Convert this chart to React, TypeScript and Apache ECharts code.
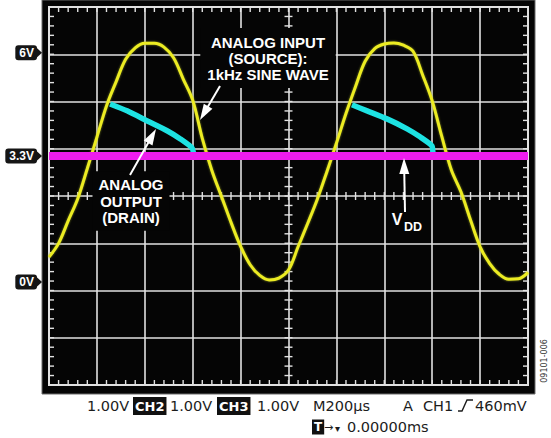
import React, { useEffect, useRef } from "react";
import * as echarts from "echarts";

// Time base: M200µs -> 10 divisions = 2000 µs
const timeUs = [
  0, 40, 80, 120, 160, 200, 240, 280, 320, 360, 400, 440, 480, 520, 560, 600, 640, 680, 720, 760,
  800, 840, 880, 920, 960, 1000, 1040, 1080, 1120, 1160, 1200, 1240, 1280, 1320, 1360, 1400, 1440,
  1480, 1520, 1560, 1600, 1640, 1680, 1720, 1760, 1800, 1840, 1880, 1920, 1960, 2000,
];
// Analog input (source): 1 kHz sine wave, volts
const inputVolts = [
  0.65, 1.01, 1.6, 2.18, 2.97, 3.79, 4.61, 5.24, 5.83, 6.13, 6.25, 6.25, 6.15, 5.87, 5.32, 4.76,
  3.76, 2.92, 2.24, 1.56, 0.93, 0.45, 0.17, 0.05, 0.1, 0.31, 0.92, 1.53, 2.16, 2.88, 3.63, 4.41,
  5.12, 5.78, 6.11, 6.23, 6.26, 6.2, 6.04, 5.42, 4.74, 3.81, 2.93, 2.36, 1.62, 0.92, 0.48, 0.2,
  0.07, 0.08, 0.25,
];
// Analog output (drain) where it departs from the input
const outputCycle1TimeUs = [255, 326, 409, 493, 547, 597, 605];
const outputCycle1Volts = [4.66, 4.48, 4.22, 3.96, 3.75, 3.51, 3.3];
const outputCycle2TimeUs = [1265, 1328, 1411, 1495, 1549, 1599, 1603];
const outputCycle2Volts = [4.64, 4.48, 4.27, 4.01, 3.8, 3.56, 3.3];
// VDD supply
const vddVolts = 3.3;
const timeSpanUs = [0, 2000];
const voltRange = [-2.7, 7.2];
const divisionRange = [-4, 4];
// Reference level markers on the left
const refLevelVolts = [6, 3.3, 0];
const refLevelLabels = ["6V", "3.3V", "0V"];

const SANS = '"Liberation Sans", Arial, Helvetica, sans-serif';
const DEJAVU = '"DejaVu Sans", "Liberation Sans", sans-serif';

export default function App() {
  const ref = useRef<HTMLDivElement>(null);

  useEffect(() => {
    const el = ref.current;
    if (!el) return;
    const chart = echarts.init(el, null, { renderer: "svg" });
    const L = 49, T = 7, W = 479, H = 378;
    const gridColor = "#e2e2e2";

    chart.setOption({
      animation: false,
      backgroundColor: "#ffffff",
      grid: {
        left: L, top: T, width: W, height: H, show: true,
        borderColor: gridColor, borderWidth: 2, backgroundColor: "transparent",
        containLabel: false, outerBoundsMode: "none",
      },
      xAxis: {
        type: "value", min: timeSpanUs[0], max: timeSpanUs[1], interval: 200,
        axisLine: { show: false }, axisTick: { show: false }, axisLabel: { show: false },
        splitLine: { show: true, lineStyle: { color: gridColor, width: 1.6 } },
      },
      yAxis: [
        {
          type: "value", min: divisionRange[0], max: divisionRange[1], interval: 1,
          axisLine: { show: false }, axisTick: { show: false }, axisLabel: { show: false },
          splitLine: { show: true, lineStyle: { color: gridColor, width: 1.6 } },
        },
        { type: "value", min: voltRange[0], max: voltRange[1], show: false, splitLine: { show: false } },
      ],
      series: [
        {
          type: "line", name: "output1", yAxisIndex: 1, showSymbol: false, smooth: 0.2,
          data: outputCycle1TimeUs.map((t, i) => [t, outputCycle1Volts[i]]),
          lineStyle: { color: "#1de3e3", width: 5.5 },
        },
        {
          type: "line", name: "output2", yAxisIndex: 1, showSymbol: false, smooth: 0.2,
          data: outputCycle2TimeUs.map((t, i) => [t, outputCycle2Volts[i]]),
          lineStyle: { color: "#1de3e3", width: 5.5 },
        },
        {
          type: "line", name: "input", yAxisIndex: 1, showSymbol: false, smooth: 0.35,
          data: timeUs.map((t, i) => [t, inputVolts[i]]),
          lineStyle: { color: "#ecec24", width: 3, shadowColor: "rgba(150,160,40,0.8)", shadowBlur: 2 },
        },
        {
          type: "line", name: "vdd", yAxisIndex: 1, showSymbol: false,
          data: timeSpanUs.map((t) => [t, vddVolts]),
          lineStyle: { color: "#ee1cee", width: 8 },
        },
      ],
    });

    const g: any[] = [];
    // screen background
    g.push({ type: "rect", z: -10, silent: true, shape: { x: 42, y: 0, width: 493, height: 394 },
      style: { fill: "#050505", stroke: "#6a6a6a", lineWidth: 1 } });

    // graticule minor ticks
    const tick = (x1: number, y1: number, x2: number, y2: number) =>
      g.push({ type: "line", z: 1, silent: true, shape: { x1, y1, x2, y2 },
        style: { stroke: gridColor, lineWidth: 1.4 } });
    const cx = L + W / 2, cy = T + H / 2;
    for (let i = 1; i < 50; i++) {
      const x = L + (W * i) / 50;
      tick(x, T, x, T + 5);
      tick(x, T + H, x, T + H - 5);
      tick(x, cy - 4, x, cy + 4);
    }
    for (let j = 1; j < 40; j++) {
      const y = T + (H * j) / 40;
      tick(L, y, L + 5, y);
      tick(L + W, y, L + W - 5, y);
      tick(cx - 4, y, cx + 4, y);
    }

    // annotation texts
    const label = (x: number, y: number, text: string, extra: any = {}) =>
      g.push({ type: "text", z: 50, silent: true, x, y,
        style: { text, fill: "#ffffff", fontFamily: SANS, fontWeight: "bold", fontSize: 15,
          lineHeight: 16, textAlign: "center", verticalAlign: "middle", textVerticalAlign: "middle",
          backgroundColor: "#050505", padding: [6, 7], ...extra } });
    label(268, 58, "ANALOG INPUT\n(SOURCE):\n1kHz SINE WAVE");
    label(131, 201, "ANALOG\nOUTPUT\n(DRAIN)", { padding: [5, 6], lineHeight: 16.5 });
    label(397, 219, "V", { fontSize: 16, padding: [1, 1] });
    label(413, 227, "DD", { fontSize: 12.5, padding: [1, 1] });

    const arrow = (x1: number, y1: number, x2: number, y2: number) => {
      const dx = x2 - x1, dy = y2 - y1, len = Math.hypot(dx, dy);
      const ux = dx / len, uy = dy / len, hl = 16, hw = 5;
      const bx = x2 - ux * hl, by = y2 - uy * hl;
      g.push({ type: "line", z: 60, silent: true, shape: { x1, y1, x2: bx + ux * 2, y2: by + uy * 2 },
        style: { stroke: "#ffffff", lineWidth: 2 } });
      g.push({ type: "polygon", z: 60, silent: true,
        shape: { points: [[x2, y2], [bx - uy * hw, by + ux * hw], [bx + uy * hw, by - ux * hw]] },
        style: { fill: "#ffffff" } });
    };
    arrow(220, 86, 200, 120);
    arrow(130, 175, 156, 129);
    arrow(405, 212, 404, 158);

    // reference level tags on the left
    refLevelVolts.forEach((v, i) => {
      const py = chart.convertToPixel({ yAxisIndex: 1 }, v) as number;
      g.push({ type: "text", z: 50, silent: true, x: 37, y: py,
        style: { text: refLevelLabels[i], fill: "#ffffff", fontFamily: SANS, fontWeight: "bold",
          fontSize: 12, lineHeight: 12, textAlign: "right", verticalAlign: "middle",
          textVerticalAlign: "middle", backgroundColor: "#151515", padding: [2, 3, 1, 4],
          borderRadius: 3 } });
      g.push({ type: "polygon", z: 50, silent: true,
        shape: { points: [[36, py - 5.5], [42, py], [36, py + 5.5]] }, style: { fill: "#151515" } });
    });

    // bottom status line
    const plain = (x: number, y: number, text: string, size = 14.5) =>
      g.push({ type: "text", z: 50, silent: true, x, y,
        style: { text, fill: "#1c1c1c", fontFamily: DEJAVU, fontSize: size, textAlign: "left",
          verticalAlign: "middle", textVerticalAlign: "middle" } });
    const boxed = (x: number, y: number, text: string, size = 13, pad: number[] = [2, 2, 1, 2]) =>
      g.push({ type: "text", z: 50, silent: true, x, y,
        style: { text, fill: "#ffffff", fontFamily: DEJAVU, fontWeight: "bold", fontSize: size,
          lineHeight: size + 2, textAlign: "left", verticalAlign: "middle", textVerticalAlign: "middle",
          backgroundColor: "#111111", padding: pad } });
    plain(87, 406, "1.00V");
    boxed(133, 406, "CH2");
    plain(170, 406, "1.00V");
    boxed(217, 406, "CH3");
    plain(257, 406, "1.00V");
    plain(313, 406, "M200µs");
    plain(403, 406, "A");
    plain(423, 406, "CH1");
    g.push({ type: "polyline", z: 50, silent: true,
      shape: { points: [[458, 411], [462, 411], [467, 400], [473, 400]] },
      style: { stroke: "#1c1c1c", lineWidth: 1.4, fill: null } });
    plain(475, 406, "460mV");
    boxed(312, 427, "T", 12, [1, 2, 0, 2]);
    plain(324, 427, "→", 11);
    plain(335, 428, "▾", 10);
    plain(347, 427, "0.00000ms");
    g.push({ type: "text", z: 50, silent: true, x: 544, y: 361, rotation: Math.PI / 2,
      style: { text: "09101-006", fill: "#333333", fontFamily: DEJAVU, fontSize: 8,
        textAlign: "center", verticalAlign: "middle", textVerticalAlign: "middle" } });

    chart.setOption({ graphic: g });

    return () => chart.dispose();
  }, []);

  return (
    <div
      ref={ref}
      style={{ position: "absolute", left: 0, top: 0, width: 551, height: 438 }}
    />
  );
}
